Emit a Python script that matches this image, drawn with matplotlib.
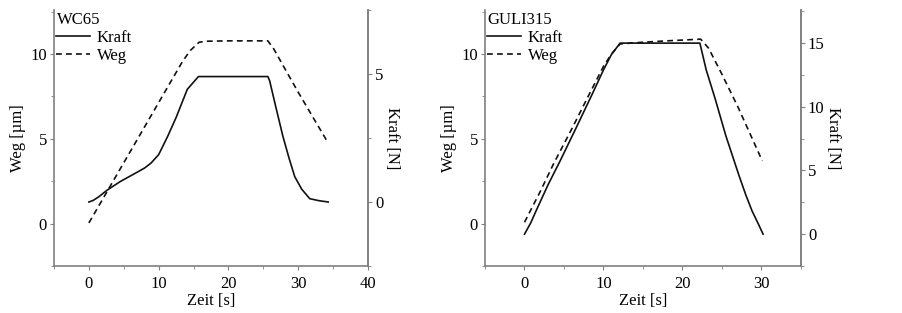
import matplotlib.pyplot as plt
from matplotlib.ticker import MultipleLocator

plt.rcParams['font.family'] = ['Liberation Serif', 'DejaVu Serif']

# WC65 - Weg (left axis, um) and Kraft (right axis, N)
wc_weg_t = [0, 2, 4, 6, 8, 10, 12, 13.4, 14.5, 15.8, 17, 20, 25.65, 26.5, 28, 30, 32, 34.3]
wc_weg = [0.04, 1.46, 2.88, 4.3, 5.72, 7.14, 8.56, 9.55, 10.2, 10.7, 10.76, 10.78, 10.78, 10.3, 9.2, 7.75, 6.35, 4.75]
wc_kraft_t = [0, 0.6, 1.4, 2.6, 4.5, 6.5, 8.0, 8.9, 10, 11.3, 12.5, 14.1, 15.7, 20, 25.65,
              25.9, 26.8, 27.8, 28.7, 29.5, 30.5, 31.65, 33, 34.3]
wc_kraft = [0, 0.06, 0.2, 0.46, 0.8, 1.1, 1.33, 1.52, 1.85, 2.57, 3.3, 4.4, 4.9, 4.9, 4.9,
            4.74, 3.7, 2.57, 1.7, 0.99, 0.5, 0.13, 0.05, 0.0]

# GULI315
gu_weg_t = [0, 2, 3.67, 6, 8, 10, 11, 12.1, 15, 18, 22.3, 23.3, 25, 27, 30.1]
gu_weg = [0.08, 1.9, 3.52, 5.6, 7.45, 9.28, 10.0, 10.6, 10.7, 10.78, 10.88, 10.35, 8.8, 6.9, 3.7]
gu_kraft_t = [0, 0.8, 1.56, 3, 4.5, 6.5, 8.5, 10, 11, 12.1, 16, 20, 22.2, 23, 24.1,
              25.5, 27.1, 28, 28.8, 29.6, 30.2]
gu_kraft = [0, 0.9, 1.96, 3.9, 5.74, 8.3, 10.9, 12.9, 14.1, 15.0, 15.0, 15.0, 15.0, 12.9, 10.7,
            7.7, 4.7, 3.1, 1.83, 0.8, 0.0]

grey = '#808080'


def style(ax, ax2):
    for a in (ax, ax2):
        a.spines['top'].set_visible(False)
        for s in ('left', 'right', 'bottom'):
            a.spines[s].set_color(grey)
            a.spines[s].set_linewidth(1.2)
        a.tick_params(which='both', color=grey, direction='out', labelsize=12, pad=2)
        a.tick_params(which='major', length=3)
        a.tick_params(which='minor', length=2.5)
    ax.tick_params(axis='x', pad=4)
    ax2.spines['left'].set_visible(False)
    ax2.spines['bottom'].set_visible(False)


fig = plt.figure(figsize=(9.03, 3.13), dpi=100)

panels = [
    ('WC65', wc_weg_t, wc_weg, wc_kraft_t, wc_kraft, (-5, 40), (-2.5, 7.5), 54, 368, 12),
    ('GULI315', gu_weg_t, gu_weg, gu_kraft_t, gu_kraft, (-5, 35), (-2.5, 17.6), 485, 801, 12),
]

for name, wt, w, kt, k, xl, kl, x0, x1, kpad in panels:
    ax = fig.add_axes([x0 / 903, (313 - 266) / 313, (x1 - x0) / 903, 256 / 313])
    ax2 = ax.twinx()
    lw, = ax.plot(wt, w, color='#111111', ls=(0, (3.5, 2.5)), lw=1.2, label='Weg')
    lk, = ax2.plot(kt, k, color='#111111', lw=1.2, label='Kraft')
    ax.set_xlim(*xl)
    ax.set_ylim(-2.5, 12.6)
    ax2.set_ylim(*kl)
    ax.xaxis.set_major_locator(MultipleLocator(10))
    ax.xaxis.set_minor_locator(MultipleLocator(5))
    ax.yaxis.set_major_locator(MultipleLocator(5))
    ax.yaxis.set_minor_locator(MultipleLocator(2.5))
    ax2.yaxis.set_major_locator(MultipleLocator(5))
    ax2.yaxis.set_minor_locator(MultipleLocator(2.5))
    style(ax, ax2)
    ax.set_xlabel('Zeit [s]', fontsize=12, labelpad=1)
    ax.set_ylabel('Weg [µm]', fontsize=12, labelpad=3)
    ax2.set_ylabel('Kraft [N]', fontsize=12, rotation=270, labelpad=kpad)
    leg = ax.legend([lk, lw], ['Kraft', 'Weg'], title=name, loc='upper left', frameon=False,
                    fontsize=12, title_fontsize=12, handlelength=2.0, handletextpad=0.4,
                    borderaxespad=0.0, borderpad=0.15, labelspacing=0.1)
    leg._legend_box.align = 'left'

fig.savefig('out.png', dpi=100)
